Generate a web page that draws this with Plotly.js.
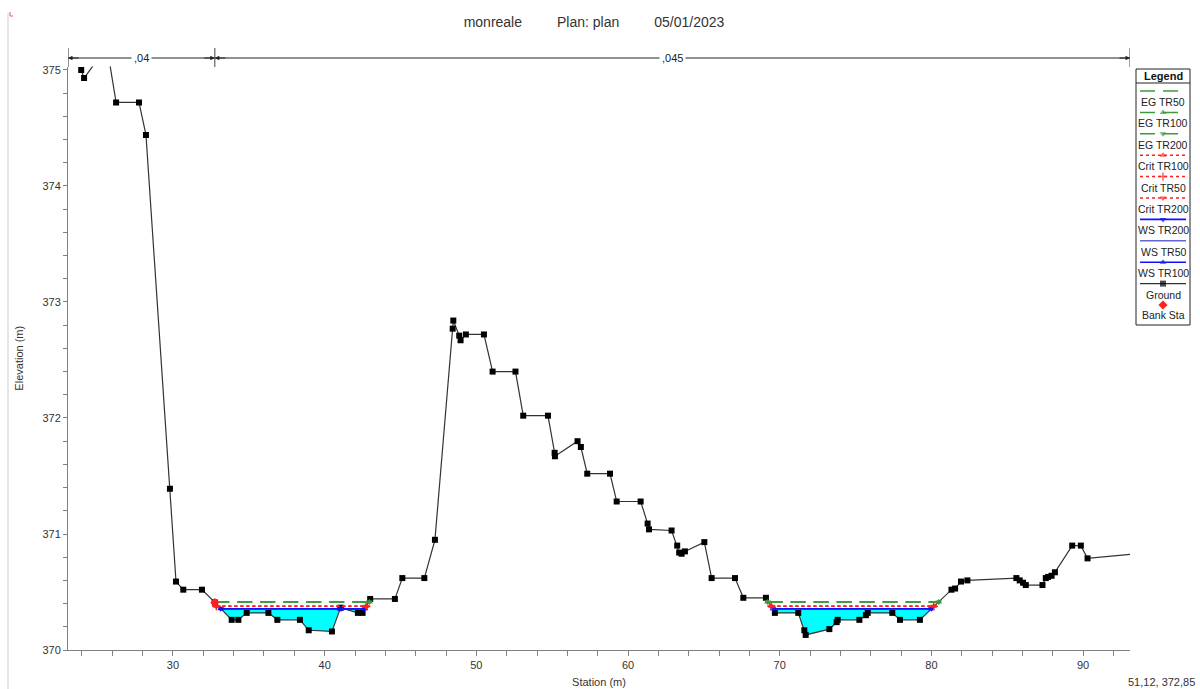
<!DOCTYPE html>
<html>
<head>
<meta charset="utf-8">
<script src="https://cdn.plot.ly/plotly-3.0.1.min.js"></script>
<style>html,body{margin:0;padding:0;background:#fff;}#chart{width:1200px;height:689px;}</style>
</head>
<body>
<div id="chart"></div>
<script>
// ---------------- data ----------------
const groundSta = [23.95, 24.14, 25.20, 25.75, 26.25, 27.76, 28.22, 29.80, 30.20, 30.68, 31.91, 32.76, 33.87, 34.31, 34.86, 36.29, 36.88, 38.37, 38.95, 40.48, 41.05, 42.19, 42.50, 43.00, 44.63, 45.12, 46.57, 47.27, 48.44, 48.48, 48.87, 48.96, 49.31, 50.50, 51.07, 52.58, 53.09, 54.72, 55.16, 55.18, 56.67, 56.89, 57.31, 58.81, 59.25, 60.83, 61.29, 61.38, 62.87, 63.24, 63.37, 63.53, 63.75, 65.03, 65.51, 67.05, 67.60, 69.09, 69.68, 71.22, 71.62, 71.71, 73.27, 73.75, 73.82, 75.25, 75.68, 75.80, 77.42, 77.93, 79.24, 81.32, 81.56, 81.95, 82.37, 85.60, 85.82, 86.04, 86.22, 87.32, 87.54, 87.69, 87.92, 88.14, 89.28, 89.85, 90.29, 93.60];
const groundElev = [375.00, 374.93, 375.12, 375.12, 374.72, 374.72, 374.44, 371.39, 370.59, 370.52, 370.52, 370.41, 370.26, 370.26, 370.32, 370.32, 370.26, 370.26, 370.17, 370.16, 370.365, 370.32, 370.32, 370.44, 370.44, 370.62, 370.62, 370.95, 372.77, 372.84, 372.71, 372.67, 372.72, 372.72, 372.40, 372.40, 372.02, 372.02, 371.70, 371.67, 371.80, 371.75, 371.52, 371.52, 371.28, 371.28, 371.09, 371.04, 371.03, 370.90, 370.84, 370.83, 370.85, 370.93, 370.62, 370.62, 370.45, 370.45, 370.32, 370.32, 370.17, 370.13, 370.18, 370.24, 370.26, 370.26, 370.30, 370.32, 370.32, 370.26, 370.26, 370.52, 370.53, 370.59, 370.60, 370.62, 370.60, 370.58, 370.56, 370.56, 370.62, 370.63, 370.64, 370.67, 370.90, 370.90, 370.79, 370.83];

const wsLevel = 370.355;
const wsStart = [33.15, 41.09, 69.55];
const wsEnd   = [41.02, 42.66, 80.00];
const critLevel = 370.378;
const critStart = [32.86, 69.45];
const critEnd   = [42.74, 80.15];
const egLevel = 370.413;
const egStart = [32.72, 69.20];
const egEnd   = [42.95, 80.48];
const bankSta = [32.76];
const bankElev = [370.41];

const nBreaks = [23.08, 32.76, 93.09];
const nLabels = [',04', ',045'];

const xRange = [23.08, 93.09];
const yRange = [370, 375.03];

const titleParts = ['monreale', 'Plan: plan', '05/01/2023'];
const xTitle = 'Station (m)';
const yTitle = 'Elevation (m)';
const cursorText = '51,12, 372,85';

// ---------------- styles ----------------
const GREEN = '#3c9a3c', RED = '#ff2020', BLUE = '#1010ff', PURPLE = '#6666cc';
const styles = {
  'EG TR50':   {color: GREEN, dash: '15px,8px', symbol: null, width: 1.5},
  'EG TR100':  {color: GREEN, dash: '15px,8px', symbol: 'triangle-up', width: 1.5},
  'EG TR200':  {color: GREEN, dash: '15px,8px', symbol: 'triangle-down', width: 1.5},
  'Crit TR100':{color: RED, dash: '3px,3px', symbol: 'triangle-up', width: 1.5},
  'Crit TR50': {color: RED, dash: '3px,3px', symbol: 'cross-thin', width: 1.5},
  'Crit TR200':{color: RED, dash: '3px,3px', symbol: 'triangle-down', width: 1.5},
  'WS TR200':  {color: BLUE, dash: 'solid', symbol: 'triangle-down', width: 1.6},
  'WS TR50':   {color: PURPLE, dash: 'solid', symbol: null, width: 1.6},
  'WS TR100':  {color: BLUE, dash: 'solid', symbol: 'triangle-up', width: 1.6},
  'Ground':    {color: '#333333', dash: 'solid', symbol: 'square', width: 1.2, mcolor: '#000'},
  'Bank Sta':  {color: RED, dash: 'solid', symbol: 'diamond', width: 0}
};
const legendOrder = ['EG TR50','EG TR100','EG TR200','Crit TR100','Crit TR50','Crit TR200','WS TR200','WS TR50','WS TR100','Ground','Bank Sta'];

function levelLine(starts, ends, level) {
  const x = [], y = [];
  starts.forEach((s, i) => { if (i) { x.push(null); y.push(null); } x.push(s, ends[i]); y.push(level, level); });
  return {x, y};
}
function markerFor(st) {
  return {symbol: st.symbol, size: 6, color: st.mcolor || st.color,
          line: {width: st.symbol === 'cross-thin' ? 1.5 : 0, color: st.color}};
}

const traces = [];
// water fill (cyan) between water surface and ground
{
  const fx = [], fy = [];
  wsStart.forEach((s, i) => {
    const e = wsEnd[i];
    if (i) { fx.push(null); fy.push(null); }
    fx.push(s, e); fy.push(wsLevel, wsLevel);
    for (let k = groundSta.length - 1; k >= 0; k--) {
      if (groundSta[k] > s && groundSta[k] < e) { fx.push(groundSta[k]); fy.push(groundElev[k]); }
    }
    fx.push(s); fy.push(wsLevel);
  });
  traces.push({x: fx, y: fy, type: 'scatter', mode: 'lines', fill: 'toself', fillcolor: '#00ffff',
               line: {width: 0, color: '#00ffff'}, hoverinfo: 'skip', showlegend: false});
}
// ground
traces.push({x: groundSta, y: groundElev, type: 'scatter', mode: 'lines+markers', name: 'Ground',
  line: {color: styles['Ground'].color, width: styles['Ground'].width},
  marker: markerFor(styles['Ground']), showlegend: false});

function addLevel(name, starts, ends, level) {
  const st = styles[name], d = levelLine(starts, ends, level);
  const t = {x: d.x, y: d.y, type: 'scatter', mode: st.symbol ? 'lines+markers' : 'lines', name,
    line: {color: st.color, width: st.width, dash: st.dash}, showlegend: false};
  if (st.symbol) t.marker = markerFor(st);
  traces.push(t);
}
addLevel('WS TR50', wsStart, wsEnd, wsLevel);
addLevel('WS TR100', wsStart, wsEnd, wsLevel);
addLevel('WS TR200', wsStart, wsEnd, wsLevel);
addLevel('Crit TR50', critStart, critEnd, critLevel);
addLevel('Crit TR100', critStart, critEnd, critLevel);
addLevel('Crit TR200', critStart, critEnd, critLevel);
addLevel('EG TR50', egStart, egEnd, egLevel);
addLevel('EG TR100', egStart, egEnd, egLevel);
addLevel('EG TR200', egStart, egEnd, egLevel);
traces.push({x: bankSta, y: bankElev, type: 'scatter', mode: 'markers', name: 'Bank Sta',
  marker: {symbol: 'diamond', size: 7, color: RED}, showlegend: false});

// ---------------- custom legend (symbol above text) ----------------
const W = 1200, H = 689;
const py = v => (H - v) / H;   // pixel row -> paper y
const px = v => v / W;         // pixel col -> paper x
const annotations = [];
const shapes = [];
legendOrder.forEach((name, i) => {
  const st = styles[name];
  const ys = 91 + i * 21.4;
  if (name === 'Bank Sta') {
    traces.push({x: [27], y: [ys], xaxis: 'x2', yaxis: 'y2', type: 'scatter', mode: 'markers',
      marker: {symbol: 'diamond', size: 7, color: RED}, hoverinfo: 'skip', showlegend: false});
  } else {
    const t = {x: [4, 27, 50], y: [ys, ys, ys], xaxis: 'x2', yaxis: 'y2', type: 'scatter',
      mode: st.symbol ? 'lines+markers' : 'lines', line: {color: st.color, width: st.width, dash: st.dash},
      hoverinfo: 'skip', showlegend: false};
    if (st.symbol) { t.marker = markerFor(st); t.marker.size = [0, 6, 0]; }
    traces.push(t);
  }
  annotations.push({text: name, xref: 'paper', yref: 'paper', x: px(1163), y: py(ys + (name === 'Bank Sta' ? 10 : 11)),
    xanchor: 'center', yanchor: 'middle', showarrow: false, font: {size: 10.5, color: '#222'}});
});
annotations.push({text: '<b>Legend</b>', xref: 'paper', yref: 'paper', x: px(1163), y: py(76),
  xanchor: 'center', yanchor: 'middle', showarrow: false, font: {size: 11, color: '#111'}});
shapes.push({type: 'rect', xref: 'paper', yref: 'paper', x0: px(1136), x1: px(1190), y0: py(325), y1: py(69),
  line: {color: '#222', width: 1}, fillcolor: 'rgba(0,0,0,0)'});
shapes.push({type: 'line', xref: 'paper', yref: 'paper', x0: px(1136), x1: px(1190), y0: py(83), y1: py(83),
  line: {color: '#222', width: 1}});

// ---------------- Manning's n bar ----------------
const nY = py(58);
for (let i = 0; i < nLabels.length; i++) {
  const a = nBreaks[i], b = nBreaks[i + 1];
  shapes.push({type: 'line', xref: 'x', yref: 'paper', x0: a, x1: b, y0: nY, y1: nY, line: {color: '#222', width: 1}});
  annotations.push({text: '', xref: 'x', yref: 'paper', x: a, y: nY, ax: 12, ay: 0, axref: 'pixel', ayref: 'pixel',
    showarrow: true, arrowhead: 2, arrowsize: 0.9, arrowwidth: 1, arrowcolor: '#222'});
  annotations.push({text: '', xref: 'x', yref: 'paper', x: b, y: nY, ax: -12, ay: 0, axref: 'pixel', ayref: 'pixel',
    showarrow: true, arrowhead: 2, arrowsize: 0.9, arrowwidth: 1, arrowcolor: '#222'});
  annotations.push({text: nLabels[i], xref: 'x', yref: 'paper', x: (a + b) / 2, y: nY, xanchor: 'center', yanchor: 'middle',
    showarrow: false, bgcolor: '#fff', borderpad: 2, font: {size: 11, color: '#222'}});
}
nBreaks.forEach(b => {
  shapes.push({type: 'line', xref: 'x', yref: 'paper', x0: b, x1: b, y0: py(67), y1: py(48), line: {color: '#444', width: 1}});
});
// y axis line extension above plot
shapes.push({type: 'line', xref: 'x', yref: 'paper', x0: xRange[0], x1: xRange[0], y0: py(66), y1: py(48), line: {color: '#808080', width: 1}});
// window edge line and small corner mark
shapes.push({type: 'line', xref: 'paper', yref: 'paper', x0: px(8), x1: px(8), y0: 0, y1: py(13), line: {color: '#d0d0d0', width: 1}});
shapes.push({type: 'path', xref: 'paper', yref: 'paper', path: `M ${px(10)} ${py(12)} L ${px(10)} ${py(16)} L ${px(13)} ${py(16)}`, line: {color: '#e06060', width: 1}});

// cursor readout
annotations.push({text: cursorText, xref: 'paper', yref: 'paper', x: px(1197), y: py(682), xanchor: 'right', yanchor: 'middle',
  showarrow: false, font: {size: 11, color: '#333'}});

const nb = '\u00a0';
const layout = {
  width: W, height: H,
  margin: {l: 0, r: 0, t: 0, b: 0},
  paper_bgcolor: '#fff', plot_bgcolor: '#fff',
  showlegend: false,
  font: {family: '"Liberation Sans", Arial, sans-serif', size: 11, color: '#333'},
  title: {text: titleParts.join(nb.repeat(9)), x: px(594), xanchor: 'center', y: py(22), yanchor: 'middle',
          font: {size: 14, color: '#333'}},
  xaxis: {domain: [px(68), px(1130)], range: xRange, anchor: 'y', showgrid: false, zeroline: false,
          showline: true, linecolor: '#808080', linewidth: 1, ticks: 'outside', ticklen: 5, tickcolor: '#808080',
          tick0: 0, dtick: 10, tickfont: {size: 11, color: '#333'},
          minor: {dtick: 2, tick0: 0, ticks: 'outside', ticklen: 5, tickcolor: '#808080', showgrid: false},
          title: {text: xTitle, font: {size: 11, color: '#333'}, standoff: 8}},
  yaxis: {domain: [py(650), py(66.5)], range: yRange, anchor: 'x', showgrid: false, zeroline: false,
          showline: true, linecolor: '#808080', linewidth: 1, ticks: 'outside', ticklen: 4, tickcolor: '#808080',
          tick0: 0, dtick: 1, tickfont: {size: 11, color: '#333'},
          minor: {dtick: 0.2, tick0: 0, ticks: 'outside', ticklen: 4, tickcolor: '#808080', showgrid: false},
          title: {text: yTitle, font: {size: 11, color: '#333'}, standoff: 16}},
  xaxis2: {domain: [px(1136), px(1190)], range: [0, 54], anchor: 'y2', visible: false, fixedrange: true},
  yaxis2: {domain: [py(325), py(69)], range: [325, 69], anchor: 'x2', visible: false, fixedrange: true},
  shapes, annotations
};

Plotly.newPlot('chart', traces, layout, {displayModeBar: false, staticPlot: true});
</script>
</body>
</html>
